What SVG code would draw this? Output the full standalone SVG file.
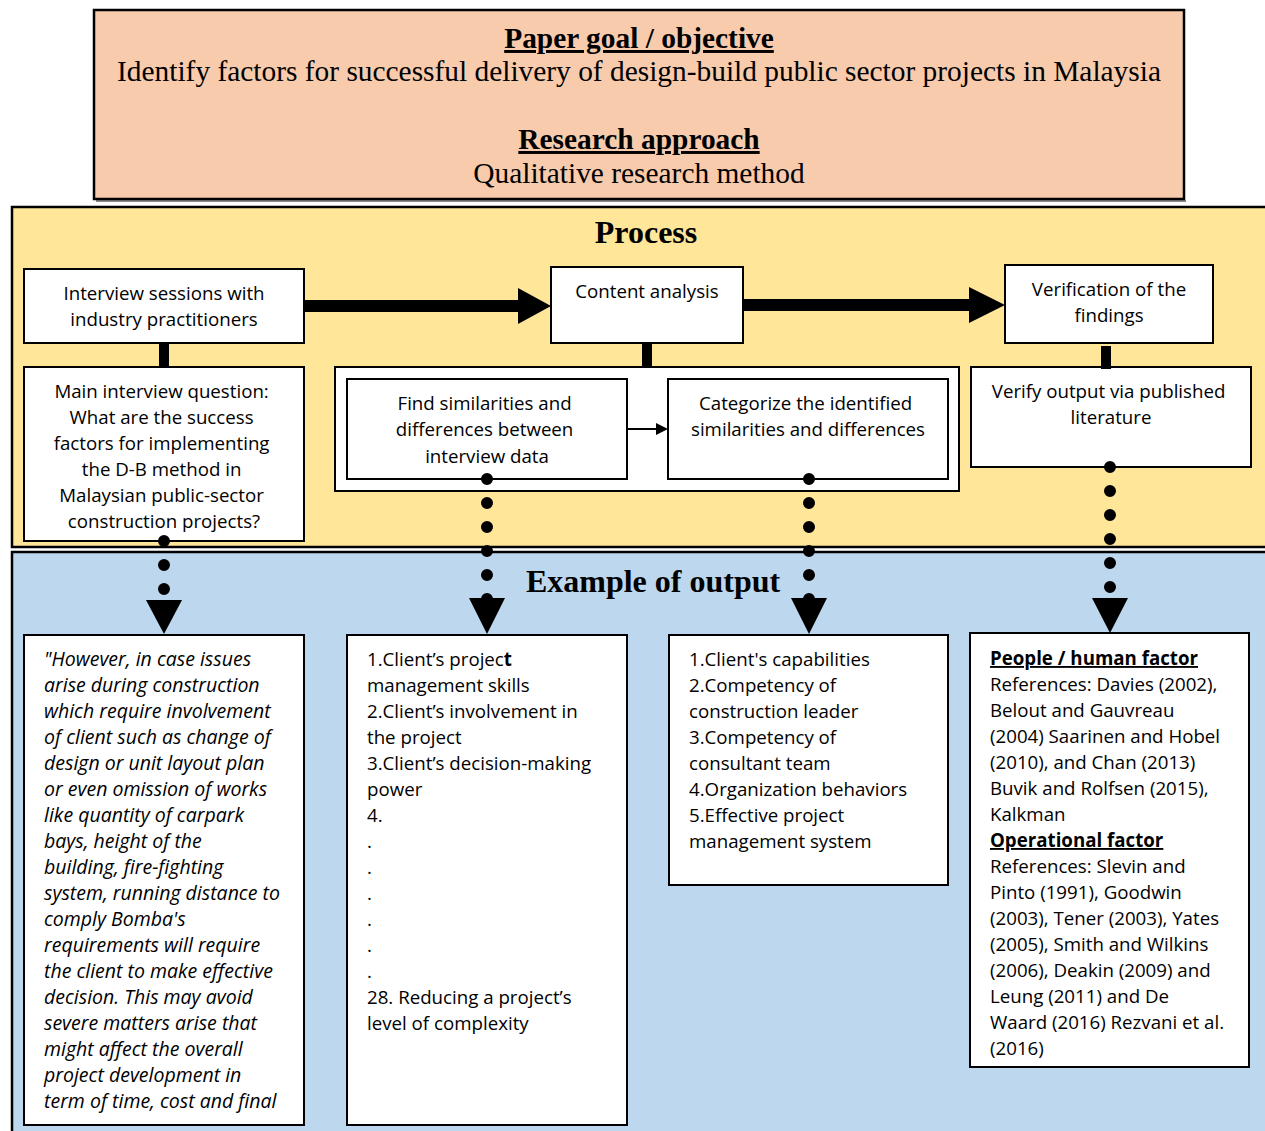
<svg xmlns="http://www.w3.org/2000/svg" width="1265" height="1131" viewBox="0 0 1265 1131">
<defs>
<style>
.panel{stroke:#000;stroke-width:2.5}
.box{fill:#fff;stroke:#000;stroke-width:2}
.serif{font-family:"Liberation Serif","Times New Roman",serif;fill:#000}
.sans{font-family:"Open Sans",Lato,"Liberation Sans",sans-serif;font-size:18.7px;fill:#000}
.c{text-anchor:middle}
.it{font-style:italic;font-size:19.5px}
.dots{stroke:#000;stroke-width:12;stroke-linecap:round;stroke-dasharray:0 24;fill:none}
.thick{stroke:#000;stroke-width:12;fill:none}
.head{fill:#000}
</style>
<marker id="thin" markerWidth="12" markerHeight="12" refX="10" refY="6" orient="auto" markerUnits="userSpaceOnUse">
<path d="M0,0 L12,6 L0,12 Z" fill="#000"/>
</marker>
</defs>
<rect width="1265" height="1131" fill="#fff"/>

<g id="header">
<line x1="96" y1="201" x2="1186" y2="201" stroke="#888" stroke-width="2"/>
<rect x="94" y="10" width="1090" height="189" fill="#F8CBAD" class="panel" stroke-width="2"/>
<text x="639" y="48" class="serif c" font-size="29.4" font-weight="bold" text-decoration="underline">Paper goal / objective</text>
<text x="639" y="81" class="serif c" font-size="29.4">Identify factors for successful delivery of design-build public sector projects in Malaysia</text>
<text x="639" y="149" class="serif c" font-size="29.4" font-weight="bold" text-decoration="underline">Research approach</text>
<text x="639" y="183" class="serif c" font-size="29.4">Qualitative research method</text>
</g>

<g id="process-panel">
<rect x="12" y="207" width="1260" height="340" fill="#FFE699" class="panel"/>
<text x="646" y="243" class="serif c" font-size="32" font-weight="bold">Process</text>
</g>

<g id="output-panel">
<rect x="12" y="552" width="1260" height="590" fill="#BDD7EE" class="panel"/>
<text x="653" y="592" class="serif c" font-size="32" font-weight="bold">Example of output</text>
</g>

<g id="interview">
<rect x="24" y="269" width="280" height="74" class="box"/>
<text x="164" y="300" class="sans c">Interview sessions with</text>
<text x="164" y="326" class="sans c">industry practitioners</text>
</g>

<g id="content-analysis">
<rect x="551" y="267" width="192" height="76" class="box"/>
<text x="647" y="298" class="sans c">Content analysis</text>
</g>

<g id="verification">
<rect x="1005" y="265" width="208" height="78" class="box"/>
<text x="1109" y="296" class="sans c">Verification of the</text>
<text x="1109" y="322" class="sans c">findings</text>
</g>

<g id="main-question">
<rect x="24" y="367" width="280" height="174" class="box"/>
<text class="sans c">
<tspan x="164" y="398">Main interview question:</tspan>
<tspan x="164" y="424">What are the success</tspan>
<tspan x="164" y="450">factors for implementing</tspan>
<tspan x="164" y="476">the D-B method in</tspan>
<tspan x="164" y="502">Malaysian public-sector</tspan>
<tspan x="164" y="528">construction projects?</tspan>
</text>
</g>

<g id="analysis-container">
<rect x="335" y="367" width="624" height="124" class="box"/>
</g>

<g id="find-similarities">
<rect x="347" y="379" width="280" height="100" class="box"/>
<text class="sans c">
<tspan x="487" y="410">Find similarities and</tspan>
<tspan x="487" y="436">differences between</tspan>
<tspan x="487" y="463">interview data</tspan>
</text>
</g>

<g id="categorize">
<rect x="668" y="379" width="280" height="100" class="box"/>
<text class="sans c">
<tspan x="808" y="410">Categorize the identified</tspan>
<tspan x="808" y="436">similarities and differences</tspan>
</text>
</g>

<g id="verify-output">
<rect x="971" y="367" width="280" height="100" class="box"/>
<text class="sans c">
<tspan x="1111" y="398">Verify output via published</tspan>
<tspan x="1111" y="424">literature</tspan>
</text>
</g>

<g id="quote">
<rect x="24" y="635" width="280" height="490" class="box"/>
<text class="sans it">
<tspan x="44" y="666">"However, in case issues</tspan>
<tspan x="44" y="692">arise during construction</tspan>
<tspan x="44" y="718">which require involvement</tspan>
<tspan x="44" y="744">of client such as change of</tspan>
<tspan x="44" y="770">design or unit layout plan</tspan>
<tspan x="44" y="796">or even omission of works</tspan>
<tspan x="44" y="822">like quantity of carpark</tspan>
<tspan x="44" y="848">bays, height of the</tspan>
<tspan x="44" y="874">building, fire-fighting</tspan>
<tspan x="44" y="900">system, running distance to</tspan>
<tspan x="44" y="926">comply Bomba's</tspan>
<tspan x="44" y="952">requirements will require</tspan>
<tspan x="44" y="978">the client to make effective</tspan>
<tspan x="44" y="1004">decision. This may avoid</tspan>
<tspan x="44" y="1030">severe matters arise that</tspan>
<tspan x="44" y="1056">might affect the overall</tspan>
<tspan x="44" y="1082">project development in</tspan>
<tspan x="44" y="1108">term of time, cost and final</tspan>
</text>
</g>

<g id="factor-list">
<rect x="347" y="635" width="280" height="490" class="box"/>
<text class="sans">
<tspan x="367" y="666">1.Client’s projec<tspan font-weight="bold">t</tspan></tspan>
<tspan x="367" y="692">management skills</tspan>
<tspan x="367" y="718">2.Client’s involvement in</tspan>
<tspan x="367" y="744">the project</tspan>
<tspan x="367" y="770">3.Client’s decision-making</tspan>
<tspan x="367" y="796">power</tspan>
<tspan x="367" y="822">4.</tspan>
<tspan x="367" y="848">.</tspan>
<tspan x="367" y="874">.</tspan>
<tspan x="367" y="900">.</tspan>
<tspan x="367" y="926">.</tspan>
<tspan x="367" y="952">.</tspan>
<tspan x="367" y="978">.</tspan>
<tspan x="367" y="1004">28. Reducing a project’s</tspan>
<tspan x="367" y="1030">level of complexity</tspan>
</text>
</g>

<g id="categories">
<rect x="669" y="635" width="279" height="250" class="box"/>
<text class="sans">
<tspan x="689" y="666">1.Client's capabilities</tspan>
<tspan x="689" y="692">2.Competency of</tspan>
<tspan x="689" y="718">construction leader</tspan>
<tspan x="689" y="744">3.Competency of</tspan>
<tspan x="689" y="770">consultant team</tspan>
<tspan x="689" y="796">4.Organization behaviors</tspan>
<tspan x="689" y="822">5.Effective project</tspan>
<tspan x="689" y="848">management system</tspan>
</text>
</g>

<g id="references">
<rect x="970" y="633" width="279" height="434" class="box"/>
<text class="sans">
<tspan x="990" y="665" font-weight="bold" text-decoration="underline">People / human factor</tspan>
<tspan x="990" y="691">References: Davies (2002),</tspan>
<tspan x="990" y="717">Belout and Gauvreau</tspan>
<tspan x="990" y="743">(2004) Saarinen and Hobel</tspan>
<tspan x="990" y="769">(2010), and Chan (2013)</tspan>
<tspan x="990" y="795">Buvik and Rolfsen (2015),</tspan>
<tspan x="990" y="821">Kalkman</tspan>
<tspan x="990" y="847" font-weight="bold" text-decoration="underline">Operational factor</tspan>
<tspan x="990" y="873">References: Slevin and</tspan>
<tspan x="990" y="899">Pinto (1991), Goodwin</tspan>
<tspan x="990" y="925">(2003), Tener (2003), Yates</tspan>
<tspan x="990" y="951">(2005), Smith and Wilkins</tspan>
<tspan x="990" y="977">(2006), Deakin (2009) and</tspan>
<tspan x="990" y="1003">Leung (2011) and De</tspan>
<tspan x="990" y="1029">Waard (2016) Rezvani et al.</tspan>
<tspan x="990" y="1055">(2016)</tspan>
</text>
</g>

<g id="connectors">
<line x1="304" y1="306" x2="520" y2="306" class="thick"/>
<polygon points="518,288 551,306 518,324" class="head"/>
<line x1="743" y1="305" x2="972" y2="305" class="thick"/>
<polygon points="969,287 1005,305 969,323" class="head"/>
<line x1="164" y1="344" x2="164" y2="366" stroke="#000" stroke-width="10"/>
<line x1="647" y1="344" x2="647" y2="366" stroke="#000" stroke-width="10"/>
<line x1="1106" y1="346" x2="1106" y2="369" stroke="#000" stroke-width="10"/>
<line x1="628" y1="429" x2="666" y2="429" stroke="#000" stroke-width="2" marker-end="url(#thin)"/>
<line x1="164" y1="541" x2="164" y2="591" class="dots"/>
<polygon points="146,600 182,600 164,634" class="head"/>
<line x1="487" y1="479" x2="487" y2="600" class="dots"/>
<polygon points="469,598 505,598 487,634" class="head"/>
<line x1="809" y1="479" x2="809" y2="600" class="dots"/>
<polygon points="791,598 827,598 809,634" class="head"/>
<line x1="1110" y1="467" x2="1110" y2="590" class="dots"/>
<polygon points="1092,598 1128,598 1110,633" class="head"/>
</g>
</svg>
